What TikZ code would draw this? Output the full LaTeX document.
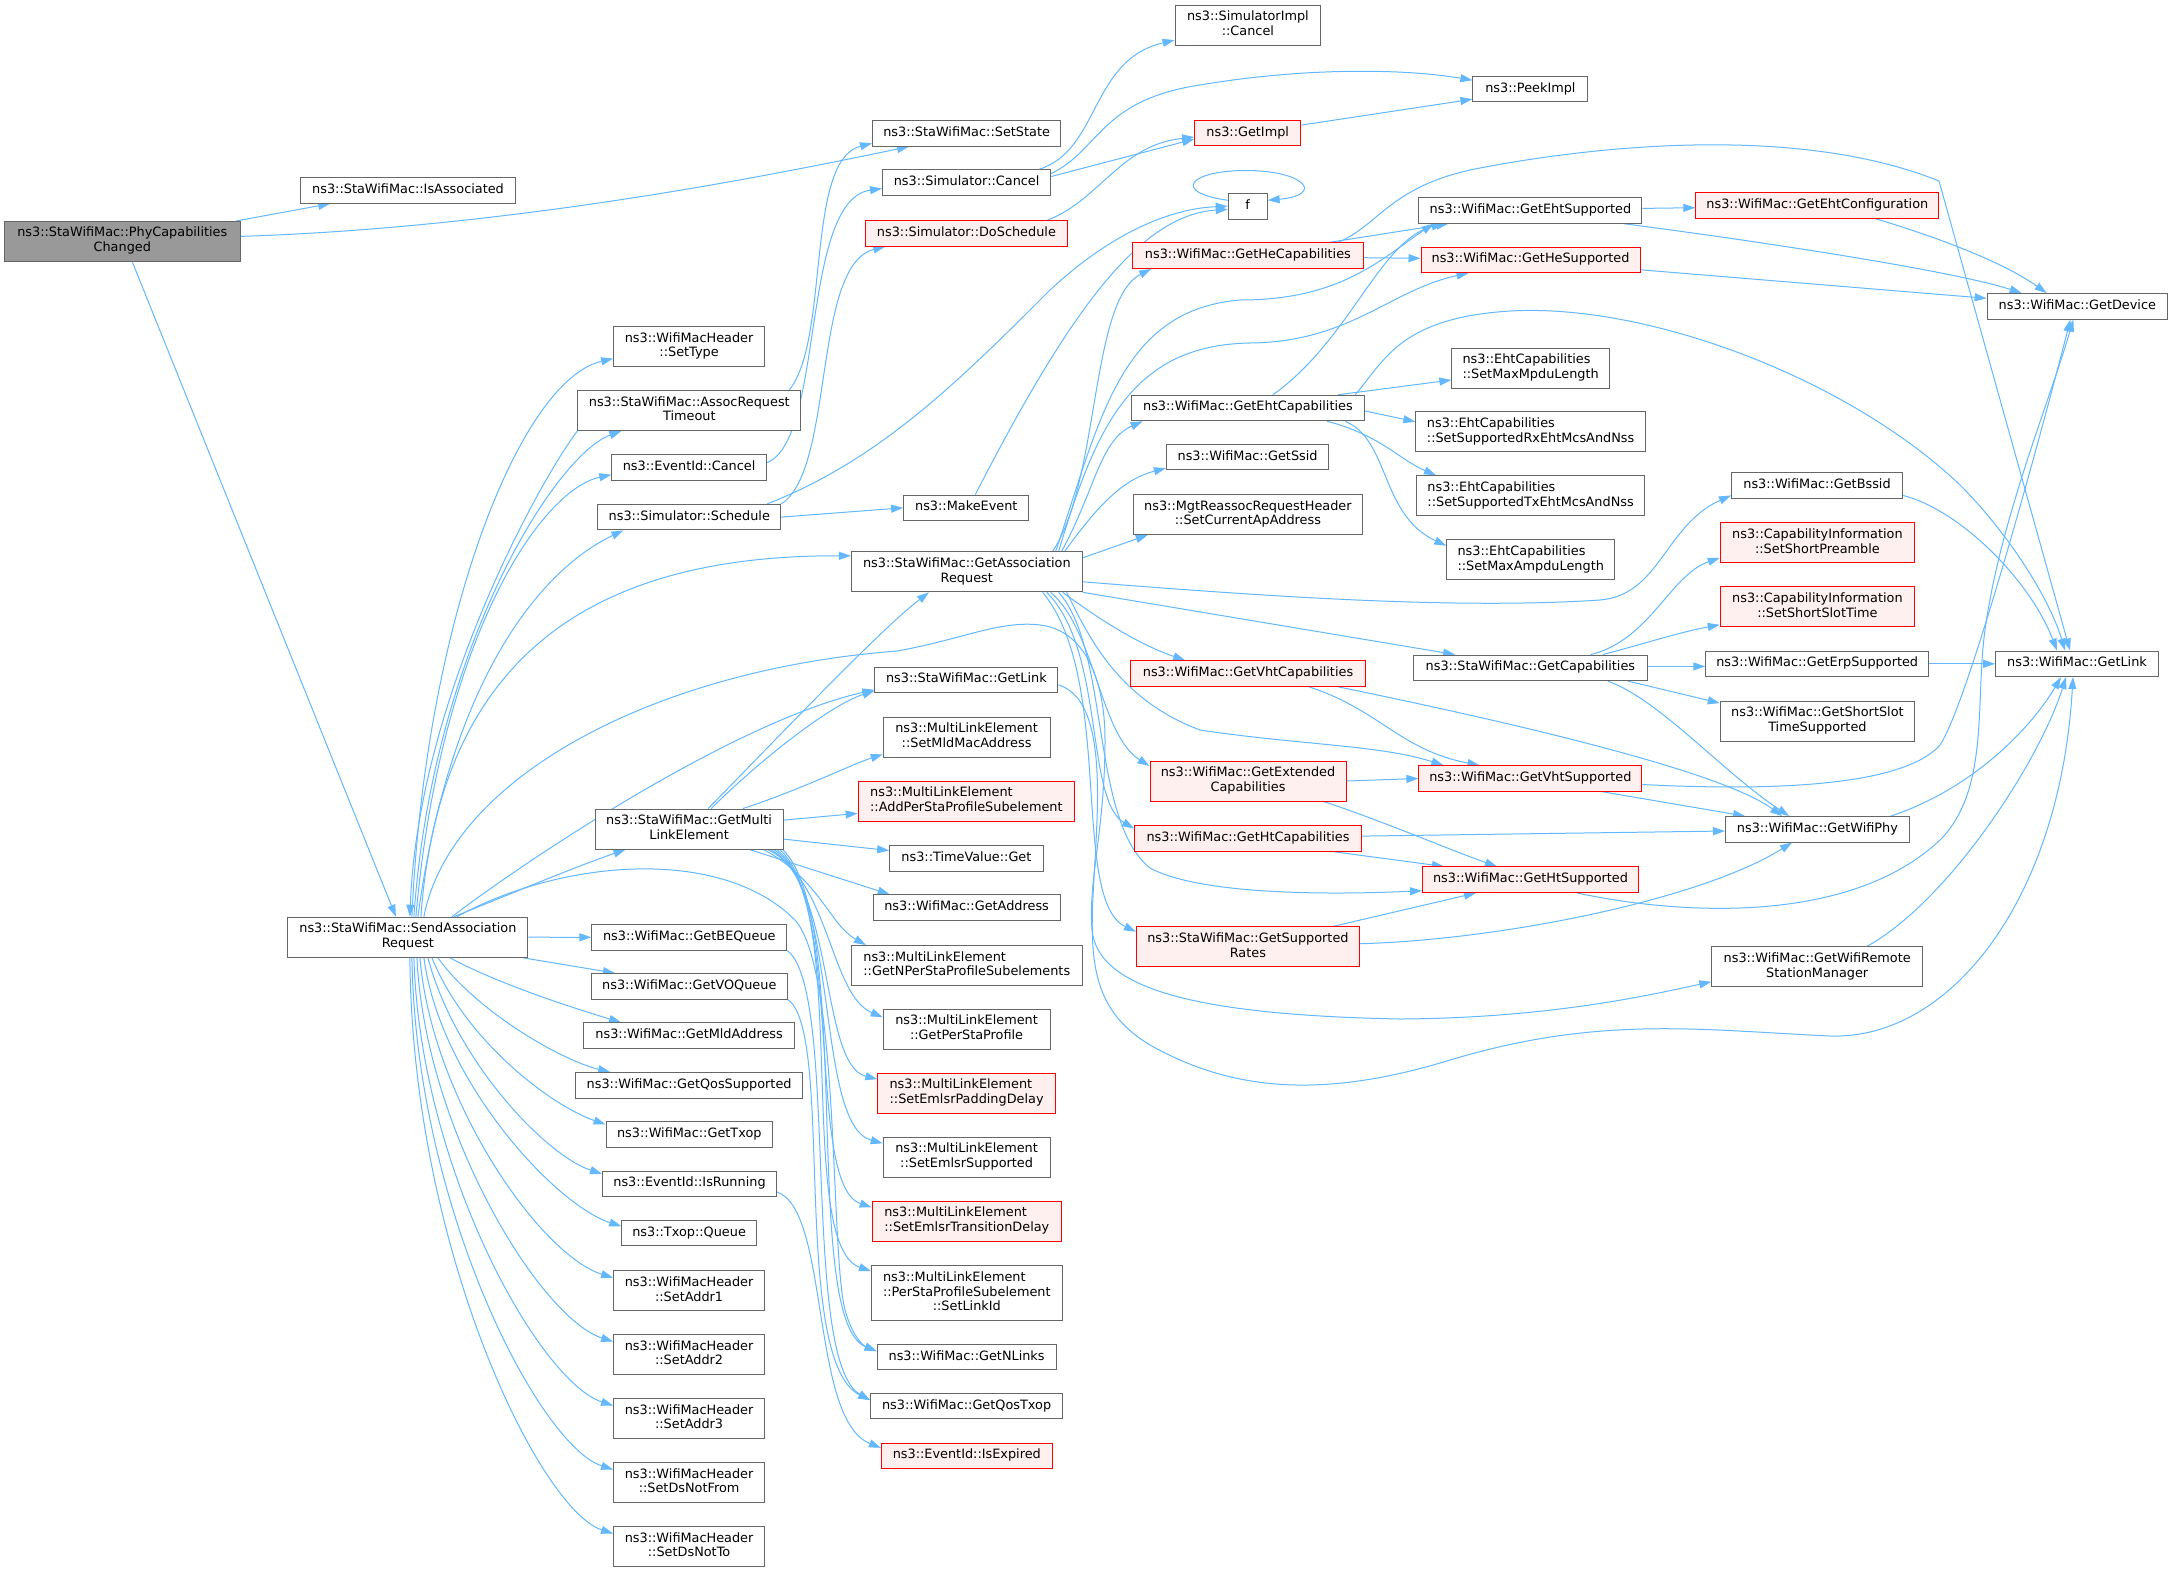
\documentclass[tikz,border=0pt]{standalone}
\usepackage{fontspec}
\setmainfont{DejaVu Sans}
\usetikzlibrary{arrows.meta,calc}
\definecolor{edgec}{HTML}{63B8FF}
\definecolor{bordc}{HTML}{666666}
\definecolor{rootc}{HTML}{999999}
\definecolor{redf}{HTML}{FFF0F0}
\definecolor{redb}{HTML}{FF0000}
\newcommand{\lb}[1]{\begin{tabular}{@{}l@{}}#1\end{tabular}}
\newcommand{\lc}[1]{\multicolumn{1}{@{}c@{}}{#1}}
\pgfdeclarelayer{bglayer}
\pgfdeclarelayer{edgelayer}
\pgfsetlayers{bglayer,edgelayer,main}
\tikzset{
  nd/.style={draw=bordc, fill=white, line width=1pt, inner sep=0pt, font=\fontsize{12.85}{14.8}\selectfont},
  n1/.style={nd, minimum height=25.5pt},
  n2/.style={nd, minimum height=40pt},
  n3/.style={nd, minimum height=55pt},
  bw/.style={minimum width=#1pt},
  redn/.style={draw=redb, fill=redf},
  rootn/.style={fill=rootc},
  e/.style={draw=edgec, line width=1pt, -{Triangle[length=12pt,width=8pt]}},
}
\begin{document}
\begin{tikzpicture}[x=1pt,y=-1pt]
\begin{pgfonlayer}{bglayer}
\fill[white] (0,0) rectangle (2173,1572);
\end{pgfonlayer}
\useasboundingbox (0,0) rectangle (2173,1572);

% column 0/1
\node[n2,rootn,bw=235.4] (P) at (122.3,241.4) {\lb{ns3::StaWifiMac::PhyCapabilities\\\lc{Changed}}};
\node[n1,bw=214.6] (IA) at (408,190.4) {\lb{ns3::StaWifiMac::IsAssociated}};
\node[n2,bw=240] (S) at (407.9,937.2) {\lb{ns3::StaWifiMac::SendAssociation\\\lc{Request}}};

% column 2
\node[n2,bw=151] (SetType) at (689.1,346.6) {\lb{ns3::WifiMacHeader\\\lc{::SetType}}};
\node[n2,bw=222.8] (ART) at (689.3,410.5) {\lb{ns3::StaWifiMac::AssocRequest\\\lc{Timeout}}};
\node[n1,bw=154.6] (ECancel) at (689.1,467.7) {\lb{ns3::EventId::Cancel}};
\node[n1,bw=182.8] (Sched) at (689.3,517.1) {\lb{ns3::Simulator::Schedule}};
\node[n2,bw=188.2] (GM) at (689.1,829.1) {\lb{ns3::StaWifiMac::GetMulti\\\lc{LinkElement}}};
\node[n1,bw=195] (BEQ) at (689.3,937.3) {\lb{ns3::WifiMac::GetBEQueue}};
\node[n1,bw=195.7] (VOQ) at (689.3,986.3) {\lb{ns3::WifiMac::GetVOQueue}};
\node[n1,bw=211] (MldA) at (689.1,1035.7) {\lb{ns3::WifiMac::GetMldAddress}};
\node[n1,bw=226.8] (QosS) at (689.1,1085.3) {\lb{ns3::WifiMac::GetQosSupported}};
\node[n1,bw=166.4] (Txop) at (689.3,1134.5) {\lb{ns3::WifiMac::GetTxop}};
\node[n1,bw=174] (IsRun) at (689.5,1183.9) {\lb{ns3::EventId::IsRunning}};
\node[n1,bw=134.6] (Queue) at (689.1,1233.2) {\lb{ns3::Txop::Queue}};
\node[n2,bw=151] (A1) at (689.1,1290.7) {\lb{ns3::WifiMacHeader\\\lc{::SetAddr1}}};
\node[n2,bw=151] (A2) at (689.1,1354.6) {\lb{ns3::WifiMacHeader\\\lc{::SetAddr2}}};
\node[n2,bw=151] (A3) at (689.1,1418.5) {\lb{ns3::WifiMacHeader\\\lc{::SetAddr3}}};
\node[n2,bw=151] (DNF) at (689.1,1482.5) {\lb{ns3::WifiMacHeader\\\lc{::SetDsNotFrom}}};
\node[n2,bw=151] (DNT) at (689.1,1546.5) {\lb{ns3::WifiMacHeader\\\lc{::SetDsNotTo}}};

% column 3
\node[n1,bw=188.2] (SetState) at (966.6,133.3) {\lb{ns3::StaWifiMac::SetState}};
\node[n1,bw=168.2] (SCancel) at (966.6,182.5) {\lb{ns3::Simulator::Cancel}};
\node[n1,redn,bw=201.4] (DoSched) at (966.4,233.3) {\lb{ns3::Simulator::DoSchedule}};
\node[n1,bw=125.3] (MakeEv) at (966.3,507.8) {\lb{ns3::MakeEvent}};
\node[n2,bw=230.7] (GA) at (966.8,571.8) {\lb{ns3::StaWifiMac::GetAssociation\\\lc{Request}}};
\node[n1,bw=182.9] (SGetLink) at (966.4,679.8) {\lb{ns3::StaWifiMac::GetLink}};
\node[n2,bw=166.8] (SetMld) at (966.6,737.3) {\lb{ns3::MultiLinkElement\\\lc{::SetMldMacAddress}}};
\node[n2,redn,bw=216.4] (AddPSP) at (966.4,801.4) {\lb{ns3::MultiLinkElement\\\lc{::AddPerStaProfileSubelement}}};
\node[n1,bw=153.6] (TVGet) at (966.4,858.5) {\lb{ns3::TimeValue::Get}};
\node[n1,bw=186.8] (GetAddr) at (966.6,907.6) {\lb{ns3::WifiMac::GetAddress}};
\node[n2,bw=230.7] (GNPSP) at (966.8,965.5) {\lb{ns3::MultiLinkElement\\\lc{::GetNPerStaProfileSubelements}}};
\node[n2,bw=166.8] (GPSP) at (966.6,1029.2) {\lb{ns3::MultiLinkElement\\\lc{::GetPerStaProfile}}};
\node[n2,redn,bw=177.5] (SEPD) at (966.6,1093.1) {\lb{ns3::MultiLinkElement\\\lc{::SetEmlsrPaddingDelay}}};
\node[n2,bw=166.8] (SES) at (966.6,1157.3) {\lb{ns3::MultiLinkElement\\\lc{::SetEmlsrSupported}}};
\node[n2,redn,bw=189.3] (SETD) at (966.8,1221.4) {\lb{ns3::MultiLinkElement\\\lc{::SetEmlsrTransitionDelay}}};
\node[n3,bw=190.7] (SLID) at (966.8,1293.1) {\lb{ns3::MultiLinkElement\\::PerStaProfileSubelement\\\lc{::SetLinkId}}};
\node[n1,bw=179] (NLinks) at (966.6,1357.2) {\lb{ns3::WifiMac::GetNLinks}};
\node[n1,bw=191.8] (QosTxop) at (966.6,1406.2) {\lb{ns3::WifiMac::GetQosTxop}};
\node[n1,redn,bw=170.7] (IsExp) at (966.8,1455.8) {\lb{ns3::EventId::IsExpired}};

% column 4
\node[n2,bw=145.7] (SImplC) at (1247.9,25.1) {\lb{ns3::SimulatorImpl\\\lc{::Cancel}}};
\node[n1,redn,bw=106.1] (GetImpl) at (1247.7,133.1) {\lb{ns3::GetImpl}};
\node[n1,bw=38.9] (f) at (1247.7,206.3) {\lb{f}};
\node[n1,redn,bw=230.7] (GHeCap) at (1247.9,255.7) {\lb{ns3::WifiMac::GetHeCapabilities}};
\node[n1,bw=233.5] (GEhtCap) at (1247.9,408) {\lb{ns3::WifiMac::GetEhtCapabilities}};
\node[n1,bw=162.5] (GSsid) at (1247.6,457.2) {\lb{ns3::WifiMac::GetSsid}};
\node[n2,bw=229.3] (SCAA) at (1247.9,514.5) {\lb{ns3::MgtReassocRequestHeader\\\lc{::SetCurrentApAddress}}};
\node[n1,redn,bw=234.6] (GVhtCap) at (1248,673.5) {\lb{ns3::WifiMac::GetVhtCapabilities}};
\node[n2,redn,bw=196] (GExtCap) at (1248,781) {\lb{ns3::WifiMac::GetExtended\\\lc{Capabilities}}};
\node[n1,redn,bw=226.8] (GHtCap) at (1248,838.5) {\lb{ns3::WifiMac::GetHtCapabilities}};
\node[n2,redn,bw=222.9] (GSR) at (1247.9,946.7) {\lb{ns3::StaWifiMac::GetSupported\\\lc{Rates}}};

% column 5
\node[n1,bw=115] (PeekImpl) at (1530.4,89.2) {\lb{ns3::PeekImpl}};
\node[n1,bw=222.9] (GEhtSup) at (1530.4,210.4) {\lb{ns3::WifiMac::GetEhtSupported}};
\node[n1,redn,bw=219] (GHeSup) at (1530.5,259.8) {\lb{ns3::WifiMac::GetHeSupported}};
\node[n2,bw=157.5] (SMaxMpdu) at (1530.6,368) {\lb{ns3::EhtCapabilities\\\lc{::SetMaxMpduLength}}};
\node[n2,bw=229.7] (SRx) at (1530.6,431.7) {\lb{ns3::EhtCapabilities\\\lc{::SetSupportedRxEhtMcsAndNss}}};
\node[n2,bw=228.3] (STx) at (1530.6,495.7) {\lb{ns3::EhtCapabilities\\\lc{::SetSupportedTxEhtMcsAndNss}}};
\node[n2,bw=167.8] (SMaxAmpdu) at (1530.7,559.7) {\lb{ns3::EhtCapabilities\\\lc{::SetMaxAmpduLength}}};
\node[n1,bw=233.6] (GCap) at (1530.4,667.8) {\lb{ns3::StaWifiMac::GetCapabilities}};
\node[n1,redn,bw=223] (GVhtSup) at (1530.4,778.5) {\lb{ns3::WifiMac::GetVhtSupported}};
\node[n1,redn,bw=216.1] (GHtSup) at (1530.5,879.7) {\lb{ns3::WifiMac::GetHtSupported}};

% column 6
\node[n1,redn,bw=243] (GEhtConf) at (1817.3,205.4) {\lb{ns3::WifiMac::GetEhtConfiguration}};
\node[n1,bw=171.1] (GBssid) at (1817,485.4) {\lb{ns3::WifiMac::GetBssid}};
\node[n2,redn,bw=194.3] (SSP) at (1817.4,542.8) {\lb{ns3::CapabilityInformation\\\lc{::SetShortPreamble}}};
\node[n2,redn,bw=194.3] (SSST) at (1817.4,606.8) {\lb{ns3::CapabilityInformation\\\lc{::SetShortSlotTime}}};
\node[n1,bw=222.9] (GErp) at (1817.2,663.8) {\lb{ns3::WifiMac::GetErpSupported}};
\node[n2,bw=194.3] (GSSTS) at (1817.4,721.1) {\lb{ns3::WifiMac::GetShortSlot\\\lc{TimeSupported}}};
\node[n1,bw=183.7] (GWP) at (1817.4,829.3) {\lb{ns3::WifiMac::GetWifiPhy}};
\node[n2,bw=210.9] (GWRSM) at (1817.2,966.8) {\lb{ns3::WifiMac::GetWifiRemote\\\lc{StationManager}}};

% column 7
\node[n1,bw=180.3] (GDev) at (2077.3,306.3) {\lb{ns3::WifiMac::GetDevice}};
\node[n1,bw=162.9] (WGetLink) at (2077,663.8) {\lb{ns3::WifiMac::GetLink}};

\begin{pgfonlayer}{edgelayer}
% from root
\draw[e] ($(P.north east)+(-4,0)$) -- ($(IA.south west)+(30,0)$);
\draw[e] ($(P.east)+(0,-5)$) .. controls (500,228) and (750,180) .. ($(SetState.south west)+(37,0)$);
\draw[e] ($(P.south)+(10,0)$) -- ($(S.north)+(-12,0)$);
% S upward
\draw[e] ($(S.north)+(4,0)$) .. controls (425,620) and (520,380) .. ($(SetType.west)+(0,12)$);
\draw[e] ($(S.north)+(6,0)$) .. controls (432,650) and (555,455) .. ($(ART.south west)+(44,0)$);
\draw[e] (ART.south west) .. controls (540,480) and (418,700) .. ($(S.north)+(2,0)$);
\draw[e] ($(S.north)+(8,0)$) .. controls (440,640) and (540,490) .. ($(ECancel.west)+(0,7)$);
\draw[e] ($(S.north)+(10,0)$) .. controls (450,680) and (540,570) .. ($(Sched.south west)+(26,0)$);
\draw[e] ($(S.north)+(13,0)$) .. controls (440,650) and (600,555) .. ($(GA.west)+(0,-16)$);
\draw[e] ($(S.north)+(16,0)$) .. controls (450,780) and (650,670) .. (897,651) .. controls (960,640) and (1000,620) .. (1040,625) .. controls (1085,630) and (1105,680) .. (1105,740) .. controls (1105,830) and (1088,880) .. (1092,930) .. controls (1098,990) and (1200,1015) .. (1400,1019) .. controls (1550,1018) and (1650,995) .. ($(GWRSM.west)+(0,15)$);
\draw[e] ($(S.north)+(44,0)$) .. controls (540,850) and (740,720) .. ($(SGetLink.west)+(0,10)$);
\draw[e] ($(S.north)+(46,0)$) .. controls (520,890) and (580,865) .. ($(GM.south west)+(31,0)$);
\draw[e] ($(S.north)+(49,0)$) .. controls (560,860) and (720,845) .. (795,920) .. controls (840,970) and (830,1250) .. (845,1310) .. controls (852,1335) and (862,1345) .. ($(NLinks.west)+(0,-6)$);
% S right / down
\draw[e] (S.east) -- (BEQ.west);
\draw[e] ($(S.south east)+(-6,0)$) -- ($(VOQ.north west)+(24,0)$);
\draw[e] ($(S.south)+(42,0)$) .. controls (500,985) and (580,1010) .. ($(MldA.north west)+(38,0)$);
\draw[e] ($(S.south)+(30,0)$) .. controls (475,1010) and (560,1060) .. ($(QosS.north west)+(35,0)$);
\draw[e] ($(S.south)+(24,0)$) .. controls (465,1040) and (550,1105) .. ($(Txop.west)+(0,-10)$);
\draw[e] ($(S.south)+(20,0)$) .. controls (455,1060) and (545,1155) .. ($(IsRun.west)+(0,-10)$);
\draw[e] ($(S.south)+(16,0)$) .. controls (440,1080) and (555,1205) .. ($(Queue.west)+(0,-7)$);
\draw[e] ($(S.south)+(12,0)$) .. controls (432,1100) and (540,1255) .. ($(A1.west)+(0,-13)$);
\draw[e] ($(S.south)+(9,0)$) .. controls (425,1130) and (540,1318) .. ($(A2.west)+(0,-13)$);
\draw[e] ($(S.south)+(6,0)$) .. controls (420,1170) and (540,1382) .. ($(A3.west)+(0,-13)$);
\draw[e] ($(S.south)+(4,0)$) .. controls (416,1210) and (540,1446) .. ($(DNF.west)+(0,-13)$);
\draw[e] ($(S.south)+(2,0)$) .. controls (412,1250) and (540,1510) .. ($(DNT.west)+(0,-13)$);
% column 2 sources
\draw[e] ($(ART.north east)+(-12,0)$) .. controls (830,340) and (805,160) .. ($(SetState.west)+(0,10)$);
\draw[e] ($(ECancel.east)+(0,-5)$) .. controls (825,440) and (800,200) .. ($(SCancel.west)+(0,6)$);
\draw[e] (Sched.north east) .. controls (835,470) and (812,265) .. ($(DoSched.south west)+(20,0)$);
\draw[e] (Sched.east) -- (MakeEv.west);
\draw[e] ($(Sched.north east)+(-14,0)$) .. controls (880,460) and (960,380) .. (1050,290) .. controls (1120,225) and (1180,208) .. (f.west);
\draw[e] ($(MakeEv.north)+(9,0)$) .. controls (1070,310) and (1140,215) .. ($(f.west)+(0,3)$);
\draw[e] ($(f.west)+(0,-6)$) .. controls (1170,192) and (1190,170) .. (1248,170.5) .. controls (1305,171) and (1325,195) .. ($(f.east)+(0,-6)$);
% simulator
\draw[e] ($(SCancel.north east)+(-12,0)$) .. controls (1100,150) and (1090,60) .. ($(SImplC.west)+(0,15)$);
\draw[e] ($(SCancel.east)+(0,-9)$) .. controls (1100,150) and (1100,100) .. (1200,85) .. controls (1300,68) and (1400,68) .. ($(PeekImpl.west)+(0,-9)$);
\draw[e] ($(SCancel.east)+(0,-6)$) -- ($(GetImpl.west)+(0,6)$);
\draw[e] ($(DoSched.north east)+(-20,0)$) .. controls (1100,200) and (1120,145) .. ($(GetImpl.west)+(0,4)$);
\draw[e] ($(GetImpl.east)+(0,-8)$) -- ($(PeekImpl.west)+(0,10)$);
% GA upward
\draw[e] ($(GA.north east)+(-30,0)$) .. controls (1100,480) and (1090,300) .. ($(GHeCap.south west)+(19,0)$);
\draw[e] ($(GA.north east)+(-27,0)$) .. controls (1100,420) and (1120,310) .. (1240,300) .. controls (1340,300) and (1380,260) .. ($(GEhtSup.south west)+(15,0)$);
\draw[e] ($(GA.north east)+(-24,0)$) .. controls (1095,430) and (1130,345) .. (1250,343) .. controls (1350,342) and (1390,290) .. ($(GHeSup.south west)+(48,0)$);
\draw[e] ($(GA.north east)+(-21,0)$) .. controls (1095,490) and (1100,440) .. ($(GEhtCap.south west)+(12,0)$);
\draw[e] ($(GA.north east)+(-18,0)$) .. controls (1095,510) and (1120,480) .. ($(GSsid.west)+(0,11)$);
\draw[e] ($(GA.east)+(0,-14)$) -- ($(SCAA.south west)+(15,0)$);
% He / Eht
\draw[e] ($(GHeCap.north east)+(-35,0)$) -- ($(GEhtSup.south west)+(30,0)$);
\draw[e] ($(GHeCap.east)+(0,2)$) -- ($(GHeSup.west)+(0,-1.5)$);
\draw[e] ($(GHeCap.north east)+(-26,0)$) .. controls (1380,225) and (1390,185) .. (1480,168) .. controls (1600,145) and (1800,125) .. (1939,181) -- ($(WGetLink.north)+(-7,0)$);
\draw[e] ($(GEhtCap.north)+(25,0)$) .. controls (1350,340) and (1380,240) .. ($(GEhtSup.south west)+(25,0)$);
\draw[e] ($(GEhtCap.north east)+(-27,0)$) -- ($(SMaxMpdu.west)+(0,12)$);
\draw[e] ($(GEhtCap.east)+(0,3)$) -- ($(SRx.west)+(0,-10)$);
\draw[e] ($(GEhtCap.south east)+(-38,0)$) .. controls (1380,435) and (1400,460) .. ($(STx.north west)+(20,0)$);
\draw[e] ($(GEhtCap.south east)+(-20,0)$) .. controls (1390,440) and (1380,515) .. ($(SMaxAmpdu.west)+(0,-14)$);
\draw[e] ($(GEhtCap.north east)+(-10,0)$) .. controls (1385,360) and (1400,318) .. (1510,311) .. controls (1650,303) and (1850,380) .. (1960,485) .. controls (2010,535) and (2050,600) .. ($(WGetLink.north)+(-12,0)$);
\draw[e] ($(GEhtSup.east)+(0,-2)$) -- ($(GEhtConf.west)+(0,2.3)$);
\draw[e] ($(GEhtSup.south east)+(-19,0)$) .. controls (1750,240) and (1950,270) .. ($(GDev.north west)+(35,0)$);
\draw[e] ($(GHeSup.east)+(0,10)$) -- ($(GDev.west)+(0,-8)$);
\draw[e] ($(GEhtConf.south)+(58,0)$) .. controls (1930,235) and (2000,260) .. ($(GDev.north west)+(60,0)$);
% GA downward / right
\draw[e] (GA.south east) -- ($(GCap.north west)+(42,0)$);
\draw[e] ($(GA.east)+(0,10)$) .. controls (1250,595) and (1450,610) .. (1600,600) .. controls (1660,595) and (1665,525) .. ($(GBssid.west)+(0,10)$);
\draw[e] ($(GA.south east)+(-20,0)$) .. controls (1100,620) and (1140,645) .. ($(GVhtCap.north west)+(55,0)$);
\draw[e] ($(GA.south east)+(-32,0)$) .. controls (1095,630) and (1100,735) .. ($(GExtCap.west)+(0,-15)$);
\draw[e] ($(GA.south east)+(-36,0)$) .. controls (1105,650) and (1085,800) .. ($(GHtCap.west)+(0,-10)$);
\draw[e] ($(GA.south east)+(-40,0)$) .. controls (1115,680) and (1070,900) .. ($(GSR.west)+(0,-15)$);
\draw[e] ($(GA.south east)+(-24,0)$) .. controls (1110,650) and (1090,820) .. (1150,868) .. controls (1200,895) and (1330,895) .. ($(GHtSup.west)+(0,11)$);
\draw[e] ($(GA.south east)+(-16,0)$) .. controls (1090,640) and (1120,700) .. (1200,730) .. controls (1300,745) and (1380,745) .. ($(GVhtSup.north west)+(25,0)$);
\draw[e] ($(SGetLink.east)+(0,5)$) .. controls (1090,695) and (1100,740) .. (1097,820) .. controls (1093,930) and (1075,1000) .. (1150,1045) .. controls (1230,1090) and (1320,1100) .. (1450,1060) .. controls (1600,1015) and (1700,1030) .. (1830,1036) .. controls (1950,1040) and (2060,900) .. ($(WGetLink.south)+(-4,0)$);
% capabilities
\draw[e] ($(GCap.north east)+(-57,0)$) .. controls (1650,640) and (1670,575) .. ($(SSP.west)+(0,15)$);
\draw[e] ($(GCap.north east)+(-45,0)$) .. controls (1640,645) and (1680,632) .. ($(SSST.west)+(0,18)$);
\draw[e] ($(GCap.east)+(0,-1.4)$) -- ($(GErp.west)+(0,2.6)$);
\draw[e] ($(GCap.south east)+(-20,0)$) -- ($(GSSTS.west)+(0,-18)$);
\draw[e] ($(GCap.south east)+(-40,0)$) .. controls (1660,700) and (1720,770) .. ($(GWP.north west)+(64,0)$);
\draw[e] ($(GVhtCap.south east)+(-57,0)$) .. controls (1380,710) and (1400,750) .. ($(GVhtSup.north west)+(61,0)$);
\draw[e] ($(GVhtCap.south east)+(-28,0)$) .. controls (1500,720) and (1720,770) .. ($(GWP.north west)+(57,0)$);
\draw[e] (GExtCap.east) -- (GVhtSup.west);
\draw[e] ($(GExtCap.south east)+(-23,0)$) .. controls (1380,820) and (1450,850) .. ($(GHtSup.north west)+(75,0)$);
\draw[e] ($(GHtCap.east)+(0,-2.4)$) -- ($(GWP.west)+(0,1.7)$);
\draw[e] ($(GHtCap.south east)+(-28,0)$) -- ($(GHtSup.north west)+(22,0)$);
\draw[e] ($(GSR.north east)+(-26,0)$) -- ($(GHtSup.south west)+(54,0)$);
\draw[e] ($(GSR.east)+(0,-3)$) .. controls (1500,940) and (1700,900) .. ($(GWP.south west)+(67,0)$);
\draw[e] ($(GVhtSup.south east)+(-40,0)$) -- ($(GWP.north west)+(20,0)$);
\draw[e] ($(GVhtSup.east)+(0,6)$) .. controls (1750,790) and (1900,790) .. (1940,745) .. controls (1970,700) and (2050,400) .. ($(GDev.south)+(-7,0)$);
\draw[e] ($(GHtSup.south east)+(-62,0)$) .. controls (1680,915) and (1850,925) .. (1940,840) .. controls (1990,790) and (1975,700) .. (1985,630) .. controls (2000,520) and (2050,400) .. ($(GDev.south)+(-4,0)$);
\draw[e] ($(GWP.north east)+(-19,0)$) .. controls (1970,790) and (2030,730) .. ($(WGetLink.south)+(-16,0)$);
\draw[e] ($(GWRSM.north east)+(-56,0)$) .. controls (1950,900) and (2040,760) .. ($(WGetLink.south)+(-11,0)$);
\draw[e] (GErp.east) -- (WGetLink.west);
\draw[e] ($(GBssid.east)+(0,10)$) .. controls (1960,510) and (2030,580) .. ($(WGetLink.north)+(-20,0)$);
% GM
\draw[e] ($(GM.north)+(19,0)$) .. controls (790,725) and (880,630) .. ($(GA.south west)+(78,0)$);
\draw[e] ($(GM.north)+(22,0)$) .. controls (760,760) and (830,705) .. ($(SGetLink.west)+(0,11)$);
\draw[e] ($(GM.north east)+(-41,0)$) .. controls (800,790) and (850,765) .. ($(SetMld.west)+(0,17)$);
\draw[e] ($(GM.east)+(0,-9)$) -- ($(AddPSP.west)+(0,12)$);
\draw[e] ($(GM.east)+(0,10)$) -- ($(TVGet.west)+(0,-8)$);
\draw[e] ($(GM.south east)+(-34,0)$) -- ($(GetAddr.north west)+(17,0)$);
\draw[e] ($(GM.south east)+(-20,0)$) .. controls (820,880) and (830,925) .. ($(GNPSP.north west)+(15,0)$);
\draw[e] ($(GM.south east)+(-16,0)$) .. controls (830,880) and (830,995) .. ($(GPSP.west)+(0,-12)$);
\draw[e] ($(GM.south east)+(-13,0)$) .. controls (835,885) and (820,1065) .. ($(SEPD.west)+(0,-14)$);
\draw[e] ($(GM.south east)+(-10,0)$) .. controls (840,890) and (815,1125) .. ($(SES.west)+(0,-14)$);
\draw[e] ($(GM.south east)+(-7,0)$) .. controls (845,900) and (805,1185) .. ($(SETD.west)+(0,-14)$);
\draw[e] ($(GM.south east)+(-4,0)$) .. controls (850,910) and (795,1245) .. ($(SLID.west)+(0,-22)$);
\draw[e] ($(GM.south east)+(-1,0)$) .. controls (855,920) and (800,1320) .. ($(NLinks.west)+(0,-6)$);
% queues
\draw[e] (BEQ.south east) .. controls (840,990) and (800,1360) .. ($(QosTxop.west)+(0,-6)$);
\draw[e] (VOQ.south east) .. controls (835,1030) and (790,1360) .. ($(QosTxop.west)+(0,-6)$);
\draw[e] ($(IsRun.east)+(0,8)$) .. controls (830,1210) and (810,1420) .. ($(IsExp.west)+(0,-8)$);
\end{pgfonlayer}
\end{tikzpicture}
\end{document}
